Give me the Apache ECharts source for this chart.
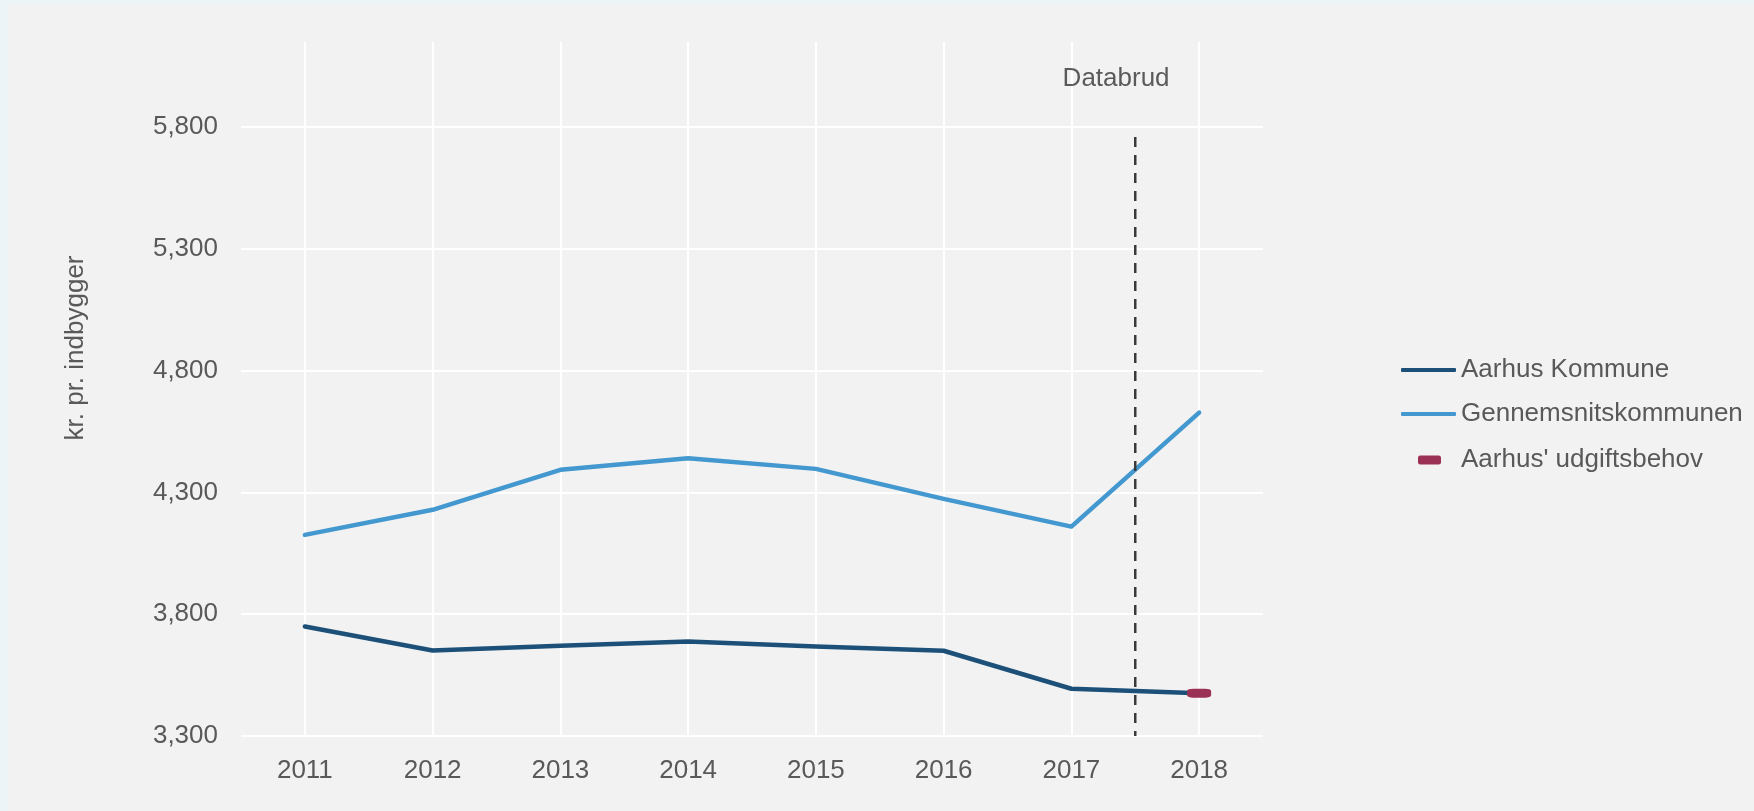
<!DOCTYPE html>
<html>
<head>
<meta charset="utf-8">
<script src="https://cdn.jsdelivr.net/npm/echarts@6/dist/echarts.min.js"></script>
<style>
  html, body { margin: 0; padding: 0; background: #edf4f8; }
  #chart { width: 1754px; height: 811px; }
</style>
</head>
<body>
<div id="chart"></div>
<script>
'use strict';
// data
var years = ['2011', '2012', '2013', '2014', '2015', '2016', '2017', '2018'];
var aarhus = [3750, 3651, 3671, 3688, 3668, 3650, 3494, 3476];
var gennemsnit = [4126, 4229, 4393, 4441, 4397, 4274, 4160, 4628];
var udgiftsbehov = [null, null, null, null, null, null, null, 3476];
var yTicks = [3300, 3800, 4300, 4800, 5300, 5800];
var databrudPos = 6.5;          // between 2017 and 2018 (category index)
var databrudRange = [3300, 5760];
var databrudLabelPos = [6.35, 6000];

var myChart = echarts.init(document.getElementById('chart'));
var font = 'Liberation Sans, Arial, sans-serif';

var option = {
    backgroundColor: '#edf4f8',
    animation: false,
    textStyle: { fontFamily: font },
    graphic: [
        {
            type: 'rect', z: -10, silent: true,
            shape: { x: 8, y: 5, width: 1746, height: 806 },
            style: { fill: '#f2f2f2' }
        },
        {
            type: 'text', x: 76, y: 348, rotation: Math.PI / 2,
            style: {
                text: 'kr. pr. indbygger', fill: '#595959', font: '26px ' + font,
                align: 'center', verticalAlign: 'middle'
            }
        }
    ],
    grid: { left: 241, right: 491, top: 42, bottom: 75 },
    legend: [
        {
            orient: 'vertical', left: 1401, top: 357, padding: 0,
            itemWidth: 55, itemHeight: 4, itemGap: 18,
            selectedMode: false,
            data: [
                { name: 'Aarhus Kommune', icon: 'roundRect' },
                { name: 'Gennemsnitskommunen', icon: 'roundRect' }
            ],
            textStyle: { color: '#595959', fontSize: 26, fontFamily: font }
        },
        {
            orient: 'vertical', left: 1418, top: 447, padding: 0,
            itemWidth: 23, itemHeight: 9,
            selectedMode: false,
            data: [{ name: "Aarhus' udgiftsbehov", icon: 'roundRect' }],
            itemStyle: { opacity: 1 },
            textStyle: { color: '#595959', fontSize: 26, fontFamily: font, padding: [0, 0, 0, 15] }
        }
    ],
    xAxis: [
        {
            type: 'category',
            data: years,
            boundaryGap: true,
            axisLine: { show: false },
            axisTick: { show: false, alignWithLabel: true },
            splitLine: { show: true, alignWithLabel: true, lineStyle: { color: '#ffffff', width: 2 } },
            axisLabel: { color: '#595959', fontSize: 26, fontFamily: font, margin: 22 }
        },
        {
            type: 'value', show: false, min: -0.5, max: 7.5,
            splitLine: { show: false }
        }
    ],
    yAxis: {
        type: 'value',
        min: 3300, max: 6150, interval: 500,
        axisLine: { show: false },
        axisTick: { show: false },
        splitLine: {
            show: true,
            lineStyle: { color: ['#ffffff', '#ffffff', '#ffffff', '#ffffff', '#ffffff', '#ffffff', 'rgba(0,0,0,0)'], width: 2 }
        },
        axisLabel: {
            color: '#595959', fontSize: 26, fontFamily: font, margin: 23,
            showMaxLabel: false,
            formatter: function (v) {
                return yTicks.indexOf(v) >= 0 ? echarts.format.addCommas(v) : '';
            }
        }
    },
    series: [
        {
            name: 'Aarhus Kommune', type: 'line', data: aarhus,
            showSymbol: false, symbol: 'none',
            color: '#1c5078',
            lineStyle: { width: 4.5, color: '#1c5078', cap: 'round', join: 'round' },
            z: 3
        },
        {
            name: 'Gennemsnitskommunen', type: 'line', data: gennemsnit,
            showSymbol: false, symbol: 'none',
            color: '#4398d0',
            lineStyle: { width: 4.5, color: '#4398d0', cap: 'round', join: 'round' },
            z: 3
        },
        {
            name: "Aarhus' udgiftsbehov", type: 'scatter', data: udgiftsbehov,
            symbol: 'roundRect', symbolSize: [24, 9],
            color: '#9b3155',
            itemStyle: { color: '#9b3155', opacity: 1 },
            z: 5
        },
        {
            name: 'Databrud', type: 'line', xAxisIndex: 1,
            data: [[databrudPos, databrudRange[1]], [databrudPos, databrudRange[0]]],
            showSymbol: false, symbol: 'none',
            lineStyle: { color: '#3a3a3a', width: 2.5, type: [10, 8] },
            z: 4
        },
        {
            name: 'DatabrudLabel', type: 'scatter', xAxisIndex: 1,
            data: [databrudLabelPos],
            symbolSize: 1, itemStyle: { color: 'rgba(0,0,0,0)' },
            label: {
                show: true, position: 'inside', formatter: 'Databrud',
                color: '#333333', fontSize: 26, fontFamily: font
            }
        }
    ]
};
myChart.setOption(option);
</script>
</body>
</html>
